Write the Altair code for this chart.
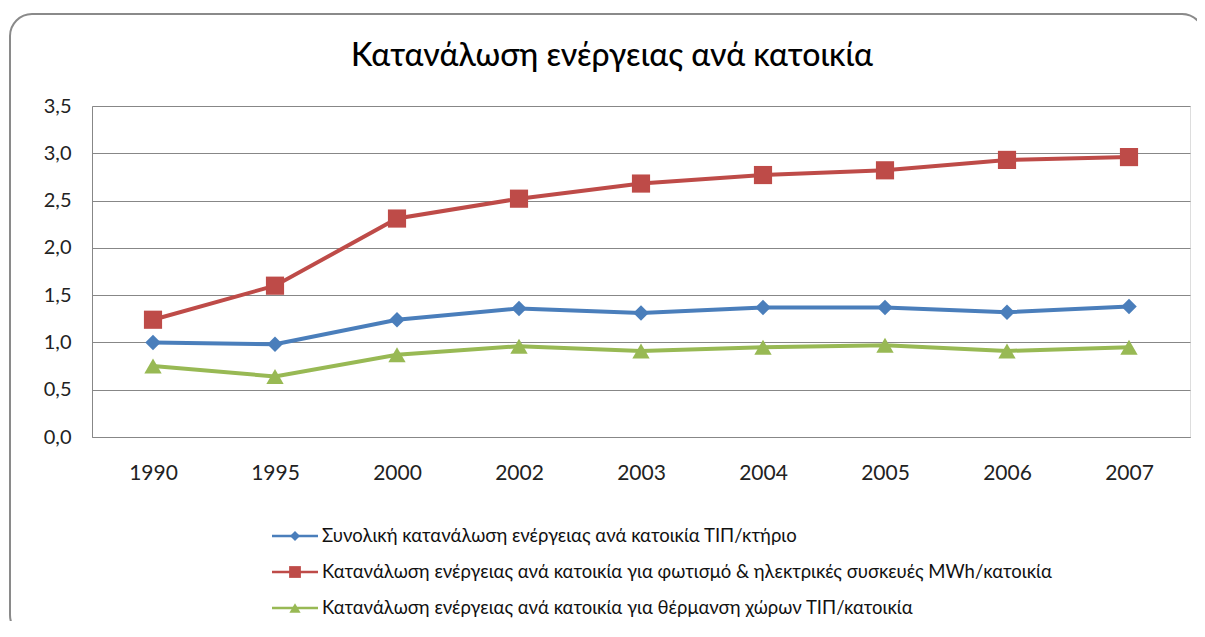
import altair as alt
import pandas as pd

chart_title = "Κατανάλωση ενέργειας ανά κατοικία"
years = ["1990", "1995", "2000", "2002", "2003", "2004", "2005", "2006", "2007"]
series_names = [
    "Συνολική κατανάλωση ενέργειας ανά κατοικία ΤΙΠ/κτήριο",
    "Κατανάλωση ενέργειας ανά κατοικία για φωτισμό & ηλεκτρικές συσκευές  MWh/κατοικία",
    "Κατανάλωση ενέργειας ανά κατοικία για θέρμανση χώρων ΤΙΠ/κατοικία",
]
total_toe = [1.00, 0.98, 1.24, 1.36, 1.31, 1.37, 1.37, 1.32, 1.38]
light_mwh = [1.24, 1.60, 2.31, 2.52, 2.68, 2.77, 2.82, 2.93, 2.96]
heat_toe = [0.75, 0.64, 0.87, 0.96, 0.91, 0.95, 0.97, 0.91, 0.95]
y_ticks = [0, 0.5, 1.0, 1.5, 2.0, 2.5, 3.0, 3.5]

colors = ["#4A7EBB", "#BE4B48", "#98B954"]
shapes = ["diamond", "square", "triangle-up"]
sizes = [240, 330, 300]
FONT = "Lato"

rows = []
for name, vals in zip(series_names, [total_toe, light_mwh, heat_toe]):
    for yr, v in zip(years, vals):
        rows.append({"year": yr, "value": v, "series": name})
df = pd.DataFrame(rows)
leg_df = pd.DataFrame({"series": series_names})

color = alt.Color("series:N", scale=alt.Scale(domain=series_names, range=colors), legend=None)

x_enc = alt.X(
    "year:O", sort=years, scale=alt.Scale(type="point", padding=0.5),
    axis=alt.Axis(title=None, labelAngle=0, ticks=False, domainColor="#878787", domainWidth=1,
                  labelPadding=25, labelFontSize=21, labelFont=FONT, labelColor="#222222"),
)
y_enc = alt.Y(
    "value:Q", scale=alt.Scale(domain=[0, 3.5], nice=False),
    axis=alt.Axis(title=None, values=y_ticks, ticks=False, grid=True, gridColor="#878787",
                  gridWidth=1, domainColor="#878787",
                  labelExpr="replace(format(datum.value, '.1f'), '.', ',')",
                  labelPadding=21, labelFontSize=20, labelFont=FONT, labelColor="#222222"),
)

base = alt.Chart(df)
lines = base.mark_line(strokeWidth=4).encode(x=x_enc, y=y_enc, color=color)
pts = [
    base.transform_filter(alt.datum.series == n)
    .mark_point(shape=s, size=sz, filled=True, opacity=1, color=c)
    .encode(x=x_enc, y=y_enc)
    for n, s, sz, c in zip(series_names, shapes, sizes, colors)
]
main = alt.layer(lines, *pts)

leg_base = alt.Chart(leg_df).encode(
    y=alt.Y("series:N", sort=series_names,
            scale=alt.Scale(type="point", domain=series_names, range=[430, 502], padding=0),
            axis=None)
)
leg_rule = leg_base.mark_rule(strokeWidth=2.5).encode(x=alt.value(180), x2=alt.value(226), color=color)
leg_pts = [
    leg_base.transform_filter(alt.datum.series == n)
    .mark_point(shape=s, size=sz * 0.42, filled=True, opacity=1, color=c)
    .encode(x=alt.value(203))
    for n, s, sz, c in zip(series_names, shapes, sizes, colors)
]
leg_text = leg_base.mark_text(align="left", baseline="middle", font=FONT, fontSize=18.5,
                              color="#111111").encode(x=alt.value(230), text="series:N")
legend = alt.layer(leg_rule, *leg_pts, leg_text)

one = pd.DataFrame({"t": [chart_title]})
border = alt.Chart(one).mark_rect(
    fill="transparent", stroke="#8A8A8A", strokeWidth=2, cornerRadius=22
).encode(x=alt.value(-82), x2=alt.value(1112), y=alt.value(-92), y2=alt.value(531))
title = alt.Chart(one).mark_text(
    font=FONT, fontSize=32, fontWeight=500, color="#000000", align="center", baseline="middle"
).encode(text="t:N", x=alt.value(520), y=alt.value(-50))

chart = alt.layer(border, title, main, legend).resolve_scale(y="independent").properties(
    width=1098, height=331,
    padding={"left": 84, "top": 98, "right": 7, "bottom": 184},
    autosize=alt.AutoSizeParams(type="none"),
).configure_view(stroke=None).configure(background="white")

chart.save("out.html", embed_options={"renderer": "svg", "actions": False})
